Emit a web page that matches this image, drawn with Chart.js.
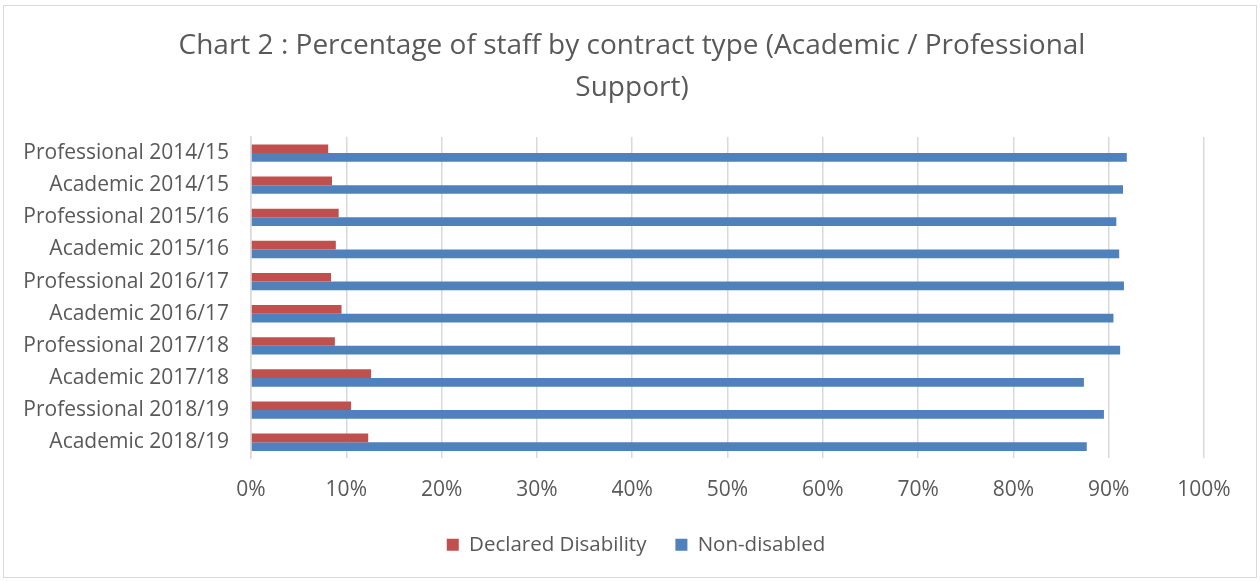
<!DOCTYPE html>
<html>
<head>
<meta charset="utf-8">
<script src="https://cdn.jsdelivr.net/npm/chart.js@4/dist/chart.umd.min.js"></script>
<style>
  html, body { margin: 0; padding: 0; background: #fff; }
  #wrap { position: relative; width: 1260px; height: 581px; }
  #frame { position: absolute; left: 3px; top: 5px; width: 1252px; height: 571px; border: 1px solid #d9d9d9; }
  canvas { position: absolute; left: 0; top: 0; }
</style>
</head>
<body>
<div id="wrap">
  <div id="frame"></div>
  <canvas id="chartKontrak" width="1260" height="581"></canvas>
</div>
<script>
// data (persen)
const categories = [
  "Professional 2014/15", "Academic 2014/15",
  "Professional 2015/16", "Academic 2015/16",
  "Professional 2016/17", "Academic 2016/17",
  "Professional 2017/18", "Academic 2017/18",
  "Professional 2018/19", "Academic 2018/19"
];
const declaredDisability = [8.1, 8.5, 9.2, 8.9, 8.4, 9.5, 8.8, 12.6, 10.5, 12.3];
const nonDisabled = [91.9, 91.5, 90.8, 91.1, 91.6, 90.5, 91.2, 87.4, 89.5, 87.7];
const tickValues = [0, 10, 20, 30, 40, 50, 60, 70, 80, 90, 100];
const titleLines = ["Chart 2 : Percentage of staff by contract type (Academic / Professional", "Support)"];

const fontName = "'Open Sans', Lato, sans-serif";
const textColor = "#595959";

// geser legend & judul supaya posisinya mirip aslinya
const geserKotak = {
    id: "geserKotak",
    afterLayout(chart) {
        const lg = chart.legend;
        if (lg) {
            lg.top -= 16; lg.bottom -= 16;
            lg.left += 34; lg.right += 34;
        }
        const tt = chart.titleBlock;
        if (tt) {
            tt.left += 30; tt.right += 30;
        }
    }
};

new Chart(document.getElementById("chartKontrak"), {
    type: "bar",
    data: {
        labels: categories,
        datasets: [
            { label: "Declared Disability", data: declaredDisability, backgroundColor: "#C0504D" },
            { label: "Non-disabled", data: nonDisabled, backgroundColor: "#4F81BD" }
        ]
    },
    options: {
        indexAxis: "y",
        responsive: false,
        animation: false,
        devicePixelRatio: 1,
        layout: { padding: { left: 0, right: 56, top: 0, bottom: 0 } },
        datasets: { bar: { categoryPercentage: 0.54, barPercentage: 1.0 } },
        scales: {
            x: {
                min: 0,
                max: 100,
                afterBuildTicks: function (scale) {
                    scale.ticks = tickValues.map(v => ({ value: v }));
                },
                ticks: {
                    callback: v => v + "%",
                    color: textColor,
                    font: { family: fontName, size: 21 },
                    padding: 19,
                    maxRotation: 0
                },
                grid: { color: "#d9d9d9", lineWidth: 1.5, drawTicks: false },
                border: { display: false }
            },
            y: {
                afterFit: function (scale) { scale.width = 251; },
                ticks: {
                    color: textColor,
                    font: { family: fontName, size: 21 },
                    padding: 22
                },
                grid: { display: false, drawTicks: false },
                border: { display: true, color: "#d9d9d9", width: 1.5 }
            }
        },
        plugins: {
            title: {
                display: true,
                text: titleLines,
                color: textColor,
                font: { family: fontName, size: 28, weight: "normal", lineHeight: 1.5 },
                padding: { top: 25, bottom: 28 }
            },
            legend: {
                position: "bottom",
                labels: {
                    color: textColor,
                    font: { family: fontName, size: 20.5 },
                    boxWidth: 12,
                    boxHeight: 12,
                    padding: 29
                }
            },
            tooltip: { enabled: false }
        }
    },
    plugins: [geserKotak]
});
</script>
</body>
</html>
